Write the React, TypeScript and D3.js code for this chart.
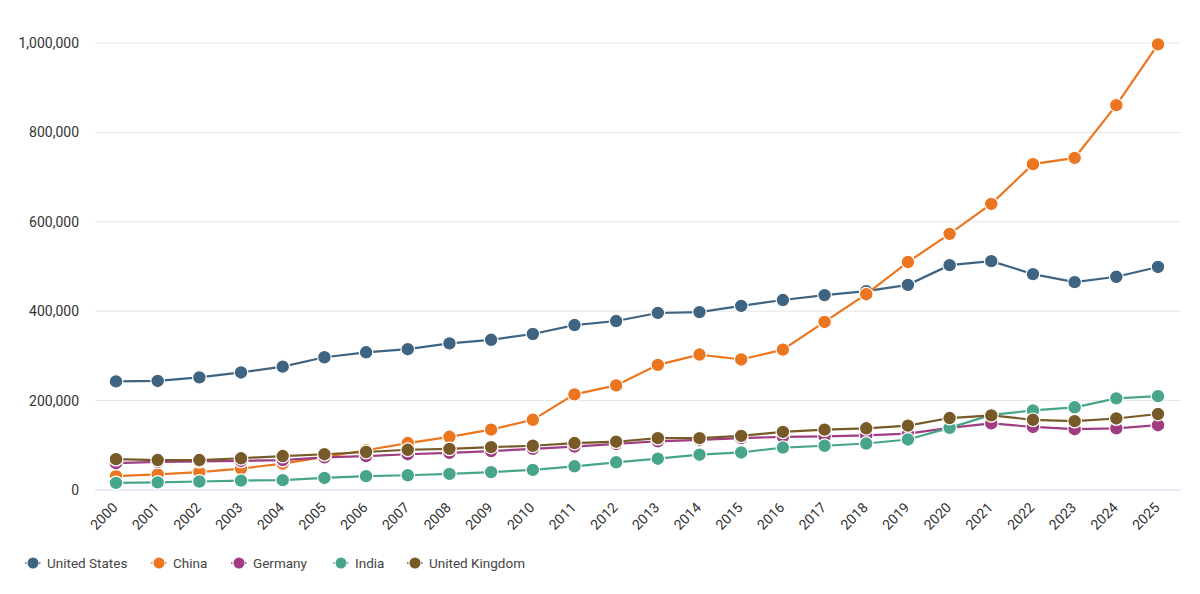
import React from 'react';
import * as d3 from 'd3';

const years = d3.range(2000, 2026).map(String);

const unitedStates = [243000, 244000, 252000, 263000, 276000, 297000, 308000, 315000, 328000, 336000, 349000, 369000, 378000, 396000, 398000, 412000, 425000, 436000, 445000, 459000, 503000, 512000, 483000, 465000, 477000, 499000];
const china = [31000, 35000, 40000, 48000, 59000, 74000, 89000, 105000, 119000, 135000, 157000, 214000, 234000, 280000, 303000, 292000, 314000, 376000, 438000, 510000, 573000, 640000, 729000, 743000, 861000, 997000];
const germany = [60000, 63000, 64000, 65000, 67000, 73000, 76000, 80000, 83000, 87000, 92000, 97000, 103000, 109000, 112000, 116000, 119000, 120000, 122000, 126000, 139000, 149000, 141000, 136000, 138000, 145000];
const india = [16000, 17000, 19000, 21000, 22000, 27000, 31000, 33000, 36000, 40000, 45000, 53000, 62000, 70000, 79000, 84000, 95000, 99000, 104000, 113000, 139000, 168000, 178000, 185000, 205000, 210000];
const unitedKingdom = [69000, 67000, 67000, 71000, 76000, 80000, 85000, 90000, 92000, 96000, 99000, 105000, 108000, 116000, 116000, 121000, 130000, 135000, 138000, 144000, 161000, 167000, 157000, 154000, 160000, 170000];

const seriesNames = ['United States', 'China', 'Germany', 'India', 'United Kingdom'];
const seriesValues = [unitedStates, china, germany, india, unitedKingdom];
const seriesColors = ['#3e6482', '#ec7520', '#a03c82', '#48a58c', '#775a27'];

const yTicks = [0, 200000, 400000, 600000, 800000, 1000000];

const W = 1200;
const H = 594;
const FONT = 'Roboto, "Noto Sans", sans-serif';

export default function App() {
  const x = d3.scalePoint<string>().domain(years).range([116, 1158]);
  const y = d3.scaleLinear().domain([0, 1000000]).range([490, 43]);
  const fmt = d3.format(',');

  const line = d3.line<number>()
    .x((_d, i) => x(years[i]) as number)
    .y((d) => y(d));

  // legend marker centres
  const legendX = [33, 159, 239, 341, 415];

  return (
    <svg
      width={W}
      height={H}
      style={{ position: 'absolute', left: 0, top: 0, display: 'block', fontFamily: FONT }}
    >
      <rect width={W} height={H} fill="#fff" />

      {/* grid + y labels */}
      {yTicks.map((t) => (
        <g key={t}>
          <line
            x1={95}
            x2={1181}
            y1={y(t)}
            y2={y(t)}
            stroke={t === 0 ? '#d3d9ef' : '#e6e6e6'}
            strokeWidth={1}
          />
          <text x={79} y={y(t)} dy="0.35em" textAnchor="end" fontSize={14} fill="#333">
            {fmt(t)}
          </text>
        </g>
      ))}

      {/* x labels */}
      {years.map((yr) => (
        <text
          key={yr}
          transform={`translate(${(x(yr) as number) - 1},${505}) rotate(-45)`}
          textAnchor="end"
          dy="0.35em"
          fontSize={14}
          fill="#333"
        >
          {yr}
        </text>
      ))}

      {/* series */}
      {seriesValues.map((vals, si) => (
        <g key={seriesNames[si]}>
          <path d={line(vals) ?? ''} fill="none" stroke={seriesColors[si]} strokeWidth={2.2} />
          {vals.map((v, i) => (
            <circle
              key={i}
              cx={x(years[i]) as number}
              cy={y(v)}
              r={6.8}
              fill={seriesColors[si]}
              stroke="#fff"
              strokeWidth={1.2}
            />
          ))}
        </g>
      ))}

      {/* legend */}
      {seriesNames.map((name, i) => {
        const cx = legendX[i];
        return (
          <g key={name} transform={`translate(${cx},563)`}>
            <line x1={-8} x2={8} y1={0} y2={0} stroke={seriesColors[i]} strokeWidth={1.5} strokeDasharray="1.5,2" />
            <circle cx={0} cy={0} r={5.5} fill={seriesColors[i]} />
            <text x={14} y={0} dy="0.35em" fontSize={13.5} fill="#444">
              {name}
            </text>
          </g>
        );
      })}
    </svg>
  );
}
